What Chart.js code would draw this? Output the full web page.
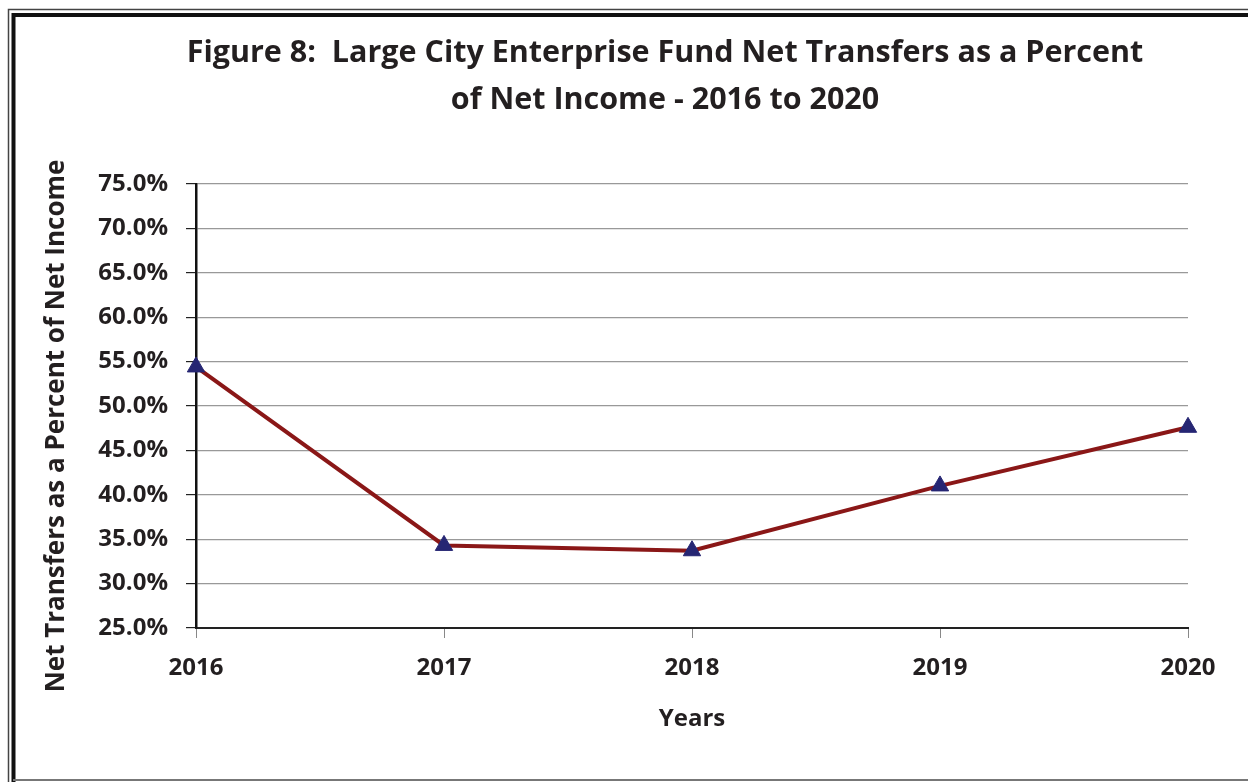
<!DOCTYPE html>
<html>
<head>
<meta charset="utf-8">
<script src="https://cdn.jsdelivr.net/npm/chart.js@4"></script>
<style>
  html, body { margin: 0; padding: 0; background: #fff; }
  #wrap { width: 1248px; height: 782px; position: relative; }
</style>
</head>
<body>
<div id="wrap"><canvas id="myChart"></canvas></div>
<script>
// data
const years = ['2016', '2017', '2018', '2019', '2020'];
const netTransfersPct = [54.4, 34.3, 33.7, 41.0, 47.6];
const yTicks = [25, 30, 35, 40, 45, 50, 55, 60, 65, 70, 75];

const titleLines = ['Figure 8:  Large City Enterprise Fund Net Transfers as a Percent', 'of Net Income - 2016 to 2020'];
const yTitle = 'Net Transfers as a Percent of Net Income';

const FONT = '"Open Sans", Lato, sans-serif';
const INK = '#231f20';

// frame around the figure, like the scanned report page
const framePlugin = {
    id: 'frame',
    beforeDraw(chart) {
        const ctx = chart.ctx;
        ctx.save();
        ctx.fillStyle = '#fff';
        ctx.fillRect(0, 0, chart.width, chart.height);
        ctx.strokeStyle = '#444';
        ctx.lineWidth = 1.5;
        ctx.beginPath();
        ctx.moveTo(8.5, chart.height);
        ctx.lineTo(8.5, 9.5);
        ctx.lineTo(chart.width, 9.5);
        ctx.stroke();
        ctx.strokeStyle = '#111';
        ctx.lineWidth = 4;
        ctx.beginPath();
        ctx.moveTo(13.5, chart.height);
        ctx.lineTo(13.5, 15);
        ctx.lineTo(chart.width, 15);
        ctx.stroke();
        ctx.strokeStyle = '#777';
        ctx.lineWidth = 2;
        ctx.beginPath();
        ctx.moveTo(13, 780);
        ctx.lineTo(chart.width, 780);
        ctx.stroke();
        ctx.restore();
    },
    // title and y-axis title placed where the figure has them
    afterDraw(chart) {
        const ctx = chart.ctx;
        ctx.save();
        ctx.fillStyle = INK;
        ctx.textAlign = 'center';
        ctx.textBaseline = 'middle';
        ctx.font = 'bold 30.5px ' + FONT;
        ctx.fillText(titleLines[0], 665, 53);
        ctx.fillText(titleLines[1], 665, 100);
        ctx.translate(57, 426);
        ctx.rotate(-Math.PI / 2);
        ctx.font = 'bold 26px ' + FONT;
        ctx.fillText(yTitle, 0, 0);
        ctx.restore();
    }
};

const data = {
    labels: years,
    datasets: [{
        label: yTitle,
        data: netTransfersPct,
        borderColor: '#8a1717',
        borderWidth: 4,
        backgroundColor: '#262673',
        pointStyle: 'triangle',
        pointRadius: 10,
        pointHoverRadius: 10,
        pointBorderColor: '#262673',
        pointBorderWidth: 1,
        tension: 0
    }]
};

const config = {
    type: 'line',
    data: data,
    options: {
        responsive: false,
        animation: false,
        layout: { padding: { left: 44, right: 60, top: 184, bottom: 48 } },
        plugins: {
            legend: { display: false },
            tooltip: { enabled: false },
            title: { display: false }
        },
        scales: {
            x: {
                type: 'category',
                offset: false,
                grid: { drawOnChartArea: false, drawTicks: true, tickLength: 10, color: '#888', lineWidth: 1 },
                border: { color: '#222', width: 2 },
                ticks: { color: INK, font: { family: FONT, size: 24, weight: 'bold' }, padding: 16, maxRotation: 0 },
                title: {
                    display: true, text: 'Years', color: INK,
                    font: { family: FONT, size: 24, weight: 'bold' }, padding: { top: 14, bottom: 0 }
                },
                afterFit(scale) { scale.height = 782 - 48 - 628; }
            },
            y: {
                min: 25,
                max: 75,
                afterBuildTicks(scale) { scale.ticks = yTicks.map(v => ({ value: v })); },
                grid: { color: '#999', lineWidth: 1.2, tickLength: 10, tickColor: '#222' },
                border: { color: '#111', width: 2.5 },
                ticks: {
                    color: INK, font: { family: FONT, size: 24, weight: 'bold' }, padding: 18,
                    callback: v => v.toFixed(1) + '%'
                },
                afterFit(scale) { scale.width = 196 - 44; }
            }
        }
    },
    plugins: [framePlugin]
};

const canvas = document.getElementById('myChart');
canvas.width = 1248;
canvas.height = 782;
const myChart = new Chart(canvas, config);
</script>
</body>
</html>
